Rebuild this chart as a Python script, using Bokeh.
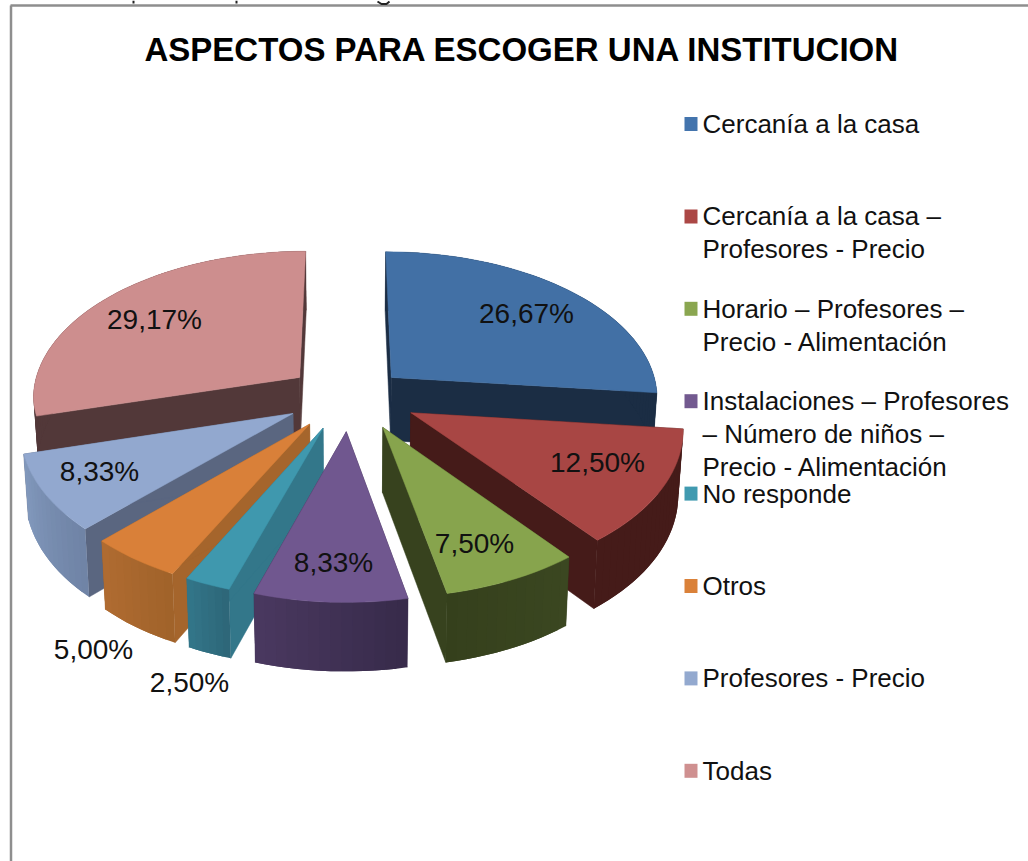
import math
from bokeh.plotting import figure
from bokeh.embed import file_html
from bokeh.resources import INLINE
from bokeh.core.properties import value

TITLE = "ASPECTOS PARA ESCOGER UNA INSTITUCION"
categories = [
    ["Cercanía a la casa"],
    ["Cercanía a la casa –", "Profesores - Precio"],
    ["Horario – Profesores –", "Precio - Alimentación"],
    ["Instalaciones – Profesores", "– Número de niños –", "Precio - Alimentación"],
    ["No responde"],
    ["Otros"],
    ["Profesores - Precio"],
    ["Todas"],
]
values = [26.67, 12.50, 7.50, 8.33, 2.50, 5.00, 8.33, 29.17]
top_colors = ["#4270a5", "#a84644", "#87a44d", "#70578f", "#3f98ae", "#d98039", "#92a8cf", "#cd8e8e"]
edge_colors = ["#1b2d44", "#451b19", "#37421e", "#3a2d4d", "#33778a", "#a5652c", "#5a6680", "#523839"]
rim_a = ["#1b2d44", "#451b19", "#3b4721", "#4a3860", "#33768a", "#b06c31", "#8299bd", "#523839"]
rim_b = ["#1b2d44", "#451b19", "#35401c", "#372b4a", "#2d6677", "#a0622a", "#6f83a5", "#523839"]
legend_colors = ["#4374ad", "#ab4745", "#8aa650", "#72598f", "#409ab0", "#da8139", "#93a9cf", "#cf9090"]
label_xy = [(526, 313), (597, 462), (474, 543), (333, 562), (189, 682), (93, 649), (99, 471), (154, 319)]

CX, CY, RX, RY, EXPLODE = 349, 399, 268, 150, 0.224
NUDGE = [(-2, 0), (8, -3), (7, -3), (0, -2), (-3, -3), (-4, -3), (-4, -3), (-3, -2)]


def mix(a, b, t):
    ca = [int(a[i:i + 2], 16) for i in (1, 3, 5)]
    cb = [int(b[i:i + 2], 16) for i in (1, 3, 5)]
    return "#%02x%02x%02x" % tuple(round(x + (y - x) * t) for x, y in zip(ca, cb))


def project(u, v):
    s = 1 + (0.125 if v < 0 else 0.095) * v
    return CX + RX * u * s, CY + RY * v * s


def lower(pt, v):
    x, y = pt
    return CX + (x - CX) * 0.985, y + 64 + 5 * max(-1, min(1, v))


p = figure(width=1028, height=861, x_range=(0, 1028), y_range=(861, 0),
           x_axis_location=None, y_axis_location=None, toolbar_location=None,
           output_backend="svg", min_border=0, outline_line_color=None,
           background_fill_color="white", border_fill_color="white")
p.grid.visible = False

# Frame of the embedded chart, and the cut-off line of text above it
p.segment([10.5, 10], [5, 5], [10.5, 1028], [861, 5], line_color="#8e8e8e", line_width=2.5)
p.segment([133, 236], [0, 0], [133, 236], [3, 3], line_color="#222222", line_width=2)
p.line([377, 381, 386, 389], [1, 3.5, 3.5, 1], line_color="#222222", line_width=2)

# Slices
slices = []
start = 0.0
for i, val in enumerate(values):
    sweep = val * 3.6
    slices.append((i, start, start + sweep))
    start += sweep

for i, a0, a1 in [slices[k] for k in (0, 7, 6, 1, 5, 2, 4, 3)]:
    mid = math.radians((a0 + a1) / 2)
    ox, oy = EXPLODE * math.sin(mid), -EXPLODE * math.cos(mid)
    n = max(6, int((a1 - a0) / 2))
    angs = [math.radians(a0 + (a1 - a0) * k / n) for k in range(n + 1)]
    uv = [(ox + math.sin(t), oy - math.cos(t)) for t in angs]
    dx, dy = NUDGE[i]
    top = [project(u, v) for u, v in uv]
    bot = [lower(pt, v) for pt, (u, v) in zip(top, uv)]
    apex = project(ox, oy)
    apex_b = lower(apex, oy)
    top = [(x + dx, y + dy) for x, y in top]
    bot = [(x + dx, y + dy) for x, y in bot]
    apex = (apex[0] + dx, apex[1] + dy)
    apex_b = (apex_b[0] + dx, apex_b[1] + dy)
    # radial side faces
    for j in (0, -1):
        p.patch([apex[0], top[j][0], bot[j][0], apex_b[0]],
                [apex[1], top[j][1], bot[j][1], apex_b[1]],
                fill_color=edge_colors[i], line_color=edge_colors[i], line_width=0.5)
    # rim: overlapping strips so no seams appear
    for k in range(n):
        c = mix(rim_a[i], rim_b[i], (k + .5) / n if i not in (3, 4, 5, 6) else 1 - (k + .5) / n)
        e = min(k + 2, n)
        p.patch([top[q][0] for q in range(k, e + 1)] + [bot[q][0] for q in range(e, k - 1, -1)],
                [top[q][1] for q in range(k, e + 1)] + [bot[q][1] for q in range(e, k - 1, -1)],
                fill_color=c, line_color=None)
    # top face
    p.patch([apex[0]] + [q[0] for q in top], [apex[1]] + [q[1] for q in top],
            fill_color=top_colors[i], line_color=top_colors[i], line_width=0.5)

# Data labels
FONT = value("Liberation Sans")
for val, (lx, ly) in zip(values, label_xy):
    p.text([lx], [ly], text=[f"{val:.2f}%".replace(".", ",")], text_font=FONT,
           text_font_size="28px", text_color="#111111", text_align="center", text_baseline="middle")

# Title
p.text([522], [49], text=[TITLE], text_font=FONT, text_font_size="33px", text_font_style="bold",
       text_color="#000000", text_align="center", text_baseline="middle")

# Legend
for k, (lines, col) in enumerate(zip(categories, legend_colors)):
    y0 = 123.5 + 92.4 * k
    p.rect([690.5], [y0], width=13, height=14, fill_color=col, line_color=None)
    for m, line in enumerate(lines):
        p.text([702], [y0 + 33 * m], text=[line], text_font=FONT, text_font_size="26px",
               text_color="#111111", text_align="left", text_baseline="middle")

open("out.html", "w").write(file_html(p, INLINE))
